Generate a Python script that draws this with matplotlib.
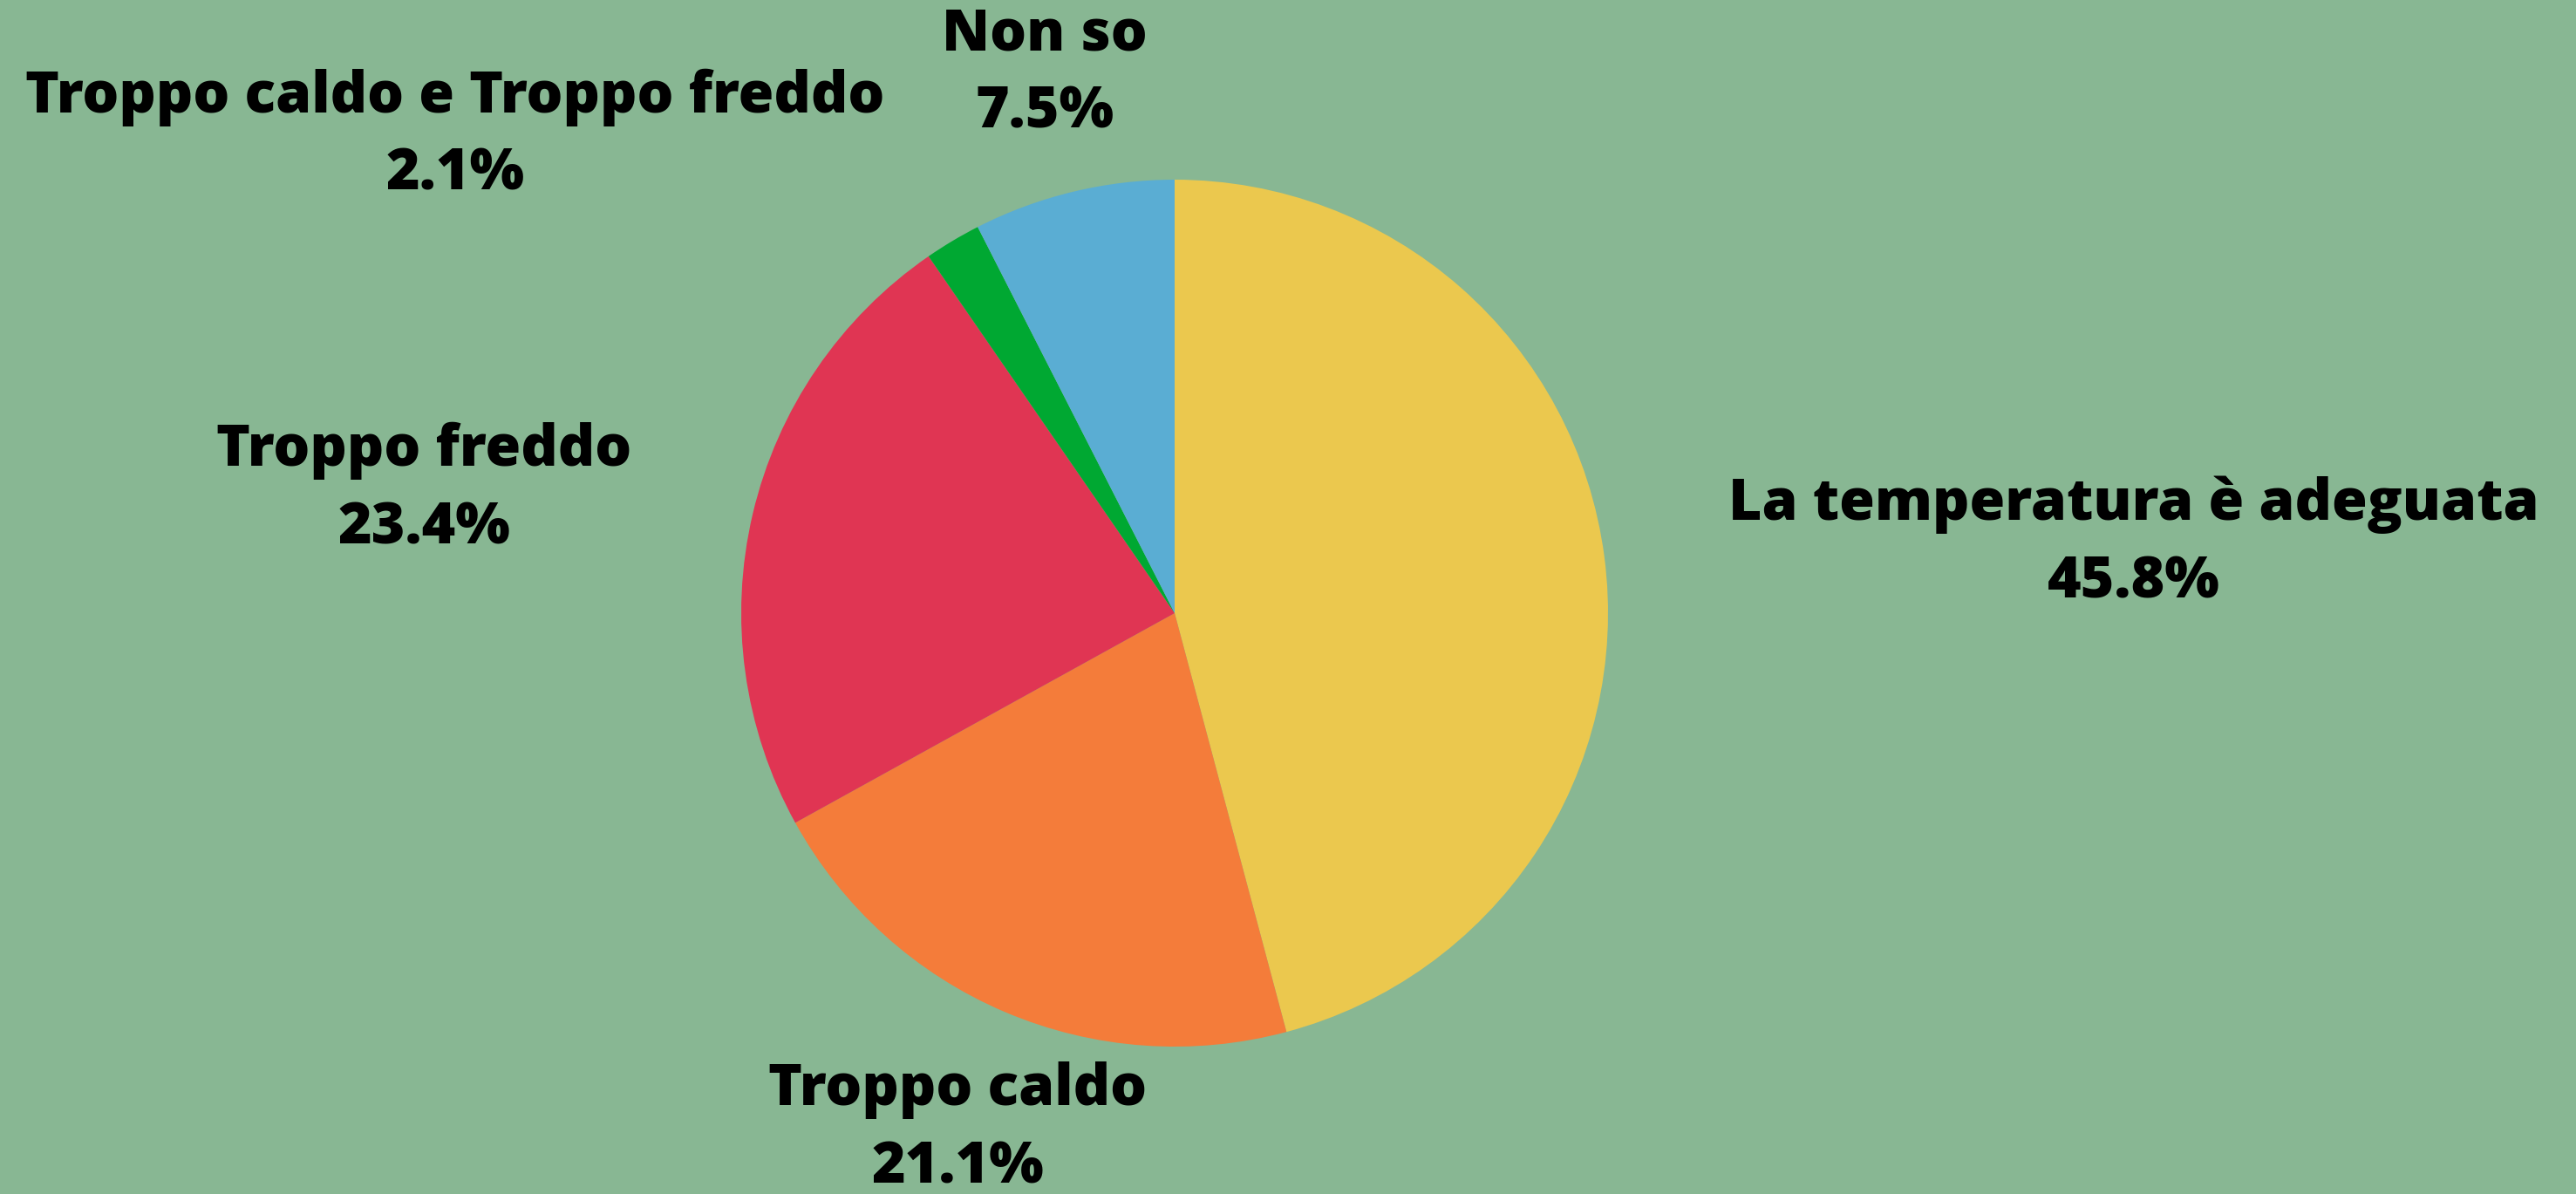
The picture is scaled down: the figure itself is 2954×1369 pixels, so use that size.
import matplotlib
matplotlib.use("Agg")
import matplotlib.pyplot as plt

# Chart data
labels = ["La temperatura è adeguata", "Troppo caldo", "Troppo freddo",
          "Troppo caldo e Troppo freddo", "Non so"]
values = [45.8, 21.1, 23.4, 2.1, 7.5]
colors = ["#EBC84E", "#F47C3A", "#E03553", "#00A832", "#5AADD3"]

# label block centres, in units of pie radius from the pie centre
label_pos = [(2.213, 0.160), (-0.501, -1.191), (-1.732, 0.285),
             (-1.660, 1.100), (-0.300, 1.243)]

W, H, DPI = 2954, 1369, 100
cx, cy, r = 1347, 703, 497  # pie centre and radius in pixels

fig = plt.figure(figsize=(W / DPI, H / DPI), dpi=DPI)
fig.patch.set_facecolor("#88B793")
ax = fig.add_axes([0, 0, 1, 1])
ax.set_facecolor("#88B793")

ax.pie(values, colors=colors, startangle=90, counterclock=False,
       radius=1, center=(0, 0), wedgeprops=dict(linewidth=0))

for (x, y), lab, v in zip(label_pos, labels, values):
    ax.text(x, y, f"{lab}\n{v}%", ha="center", va="center", linespacing=1.46,
            fontsize=47.5, fontweight=800, family=["Open Sans", "DejaVu Sans"],
            color="black")

ax.set_xlim(-cx / r, (W - cx) / r)
ax.set_ylim(-(H - cy) / r, cy / r)
ax.set_aspect("auto")
ax.axis("off")

fig.savefig("out.png", dpi=DPI, facecolor=fig.get_facecolor())
